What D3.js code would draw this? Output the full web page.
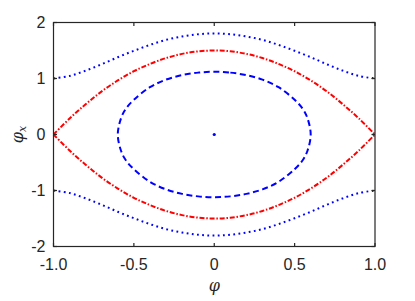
<!DOCTYPE html>
<html>
<head>
<meta charset="utf-8">
<script src="https://cdn.jsdelivr.net/npm/d3@7"></script>
<style>
  body { margin: 0; background: #fff; }
  svg { display: block; }
</style>
</head>
<body>
<svg id="chart" width="415" height="301"></svg>
<script>
// phase portrait, values (upper half, phi >= 0)
var sepPhi = [0, 0.1, 0.2, 0.3, 0.4, 0.5, 0.6, 0.7, 0.8, 0.9, 1.0];
var sepP   = [1.5, 1.485, 1.44, 1.365, 1.26, 1.13, 0.965, 0.77, 0.54, 0.285, 0];

var outPhi = [0, 0.1, 0.2, 0.3, 0.4, 0.5, 0.6, 0.7, 0.8, 0.9, 1.0];
var outP   = [1.805, 1.79, 1.75, 1.69, 1.6, 1.495, 1.38, 1.255, 1.14, 1.045, 1.0];

var inPhi = [0, 0.1, 0.2, 0.3, 0.4, 0.5, 0.55, 0.58, 0.6];
var inP   = [1.12, 1.105, 1.06, 0.98, 0.845, 0.62, 0.46, 0.29, 0];

var centerPt = [[0, 0]];

var xTicks = [-1, -0.5, 0, 0.5, 1];
var xTickLabels = ["-1.0", "-0.5", "0", "0.5", "1.0"];
var yTicks = [-2, -1, 0, 1, 2];
var yTickLabels = ["-2", "-1", "0", "1", "2"];

var margin = {left: 53.5, top: 22.5, right: 40, bottom: 54.5};
var width = 415 - margin.left - margin.right;
var height = 301 - margin.top - margin.bottom;

var svg = d3.select("#chart");
var g = svg.append("g").attr("transform", "translate(" + margin.left + "," + margin.top + ")");

var x = d3.scaleLinear().domain([-1, 1]).range([0, width]);
var y = d3.scaleLinear().domain([-2, 2]).range([height, 0]);

var axisColor = "#262626";
var font = "'Liberation Sans', Arial, sans-serif";

// mirror the upper half into a full open curve from -1 to 1
function fullArc(phis, ps, sign) {
  var pts = [];
  for (var i = phis.length - 1; i >= 1; i--) pts.push([-phis[i], sign * ps[i]]);
  for (var j = 0; j < phis.length; j++) pts.push([phis[j], sign * ps[j]]);
  return pts;
}

// closed loop for the inner orbit
function loop(phis, ps) {
  var n = phis.length, pts = [];
  for (var i = 0; i < n; i++) pts.push([phis[i], ps[i]]);
  for (var i = n - 2; i >= 0; i--) pts.push([phis[i], -ps[i]]);
  for (var i = 1; i < n; i++) pts.push([-phis[i], -ps[i]]);
  for (var i = n - 2; i >= 1; i--) pts.push([-phis[i], ps[i]]);
  return pts;
}

var line = d3.line()
  .x(function(d) { return x(d[0]); })
  .y(function(d) { return y(d[1]); })
  .curve(d3.curveCatmullRom);

var closedLine = d3.line()
  .x(function(d) { return x(d[0]); })
  .y(function(d) { return y(d[1]); })
  .curve(d3.curveCatmullRomClosed);

var plot = g.append("g");

// outer orbits (dotted)
[1, -1].forEach(function(s) {
  plot.append("path")
    .attr("d", line(fullArc(outPhi, outP, s)))
    .attr("fill", "none")
    .attr("stroke", "#0000ff")
    .attr("stroke-width", 2)
    .attr("stroke-dasharray", "1.8,3.4");
});

// separatrix (dash-dot)
[1, -1].forEach(function(s) {
  plot.append("path")
    .attr("d", line(fullArc(sepPhi, sepP, s)))
    .attr("fill", "none")
    .attr("stroke", "#ff0000")
    .attr("stroke-width", 2)
    .attr("stroke-dasharray", "5,1.8,1.5,1.8");
});

// inner orbit (dashed)
plot.append("path")
  .attr("d", closedLine(loop(inPhi, inP)))
  .attr("fill", "none")
  .attr("stroke", "#0000ff")
  .attr("stroke-width", 2)
  .attr("stroke-dasharray", "6,3.6");

// fixed point
plot.selectAll("circle").data(centerPt).enter().append("circle")
  .attr("cx", function(d) { return x(d[0]); })
  .attr("cy", function(d) { return y(d[1]); })
  .attr("r", 1.6)
  .attr("fill", "#0000ff");

// axes with inward ticks on all four sides
var tl = 3.5;
var ax = g.append("g");
ax.append("rect")
  .attr("x", 0).attr("y", 0)
  .attr("width", width).attr("height", height)
  .attr("fill", "none")
  .attr("stroke", axisColor)
  .attr("stroke-width", 1.2);

xTicks.forEach(function(t) {
  ax.append("line").attr("x1", x(t)).attr("x2", x(t)).attr("y1", height).attr("y2", height - tl)
    .attr("stroke", axisColor).attr("stroke-width", 1.2);
  ax.append("line").attr("x1", x(t)).attr("x2", x(t)).attr("y1", 0).attr("y2", tl)
    .attr("stroke", axisColor).attr("stroke-width", 1.2);
});
yTicks.forEach(function(t) {
  ax.append("line").attr("x1", 0).attr("x2", tl).attr("y1", y(t)).attr("y2", y(t))
    .attr("stroke", axisColor).attr("stroke-width", 1.2);
  ax.append("line").attr("x1", width).attr("x2", width - tl).attr("y1", y(t)).attr("y2", y(t))
    .attr("stroke", axisColor).attr("stroke-width", 1.2);
});

ax.selectAll(".xl").data(xTicks).enter().append("text")
  .attr("x", function(d) { return x(d); })
  .attr("y", height + 23.5)
  .attr("text-anchor", "middle")
  .attr("font-family", font)
  .attr("font-size", 16)
  .attr("fill", axisColor)
  .text(function(d, i) { return xTickLabels[i]; });

ax.selectAll(".yl").data(yTicks).enter().append("text")
  .attr("x", -8)
  .attr("y", function(d) { return y(d) + 5.8; })
  .attr("text-anchor", "end")
  .attr("font-family", font)
  .attr("font-size", 16)
  .attr("fill", axisColor)
  .text(function(d, i) { return yTickLabels[i]; });

// axis labels
g.append("text")
  .attr("x", width / 2)
  .attr("y", height + 44)
  .attr("text-anchor", "middle")
  .attr("font-family", "'DejaVu Serif', serif")
  .attr("font-style", "italic")
  .attr("font-size", 16)
  .attr("fill", axisColor)
  .text("φ");

var yl = g.append("text")
  .attr("transform", "translate(-31," + (height / 2) + ") rotate(-90)")
  .attr("text-anchor", "middle")
  .attr("font-family", "'DejaVu Serif', serif")
  .attr("font-style", "italic")
  .attr("font-size", 16)
  .attr("fill", axisColor);
yl.append("tspan").text("φ");
yl.append("tspan").attr("font-size", 11).attr("dy", 3).text("x");
</script>
</body>
</html>
